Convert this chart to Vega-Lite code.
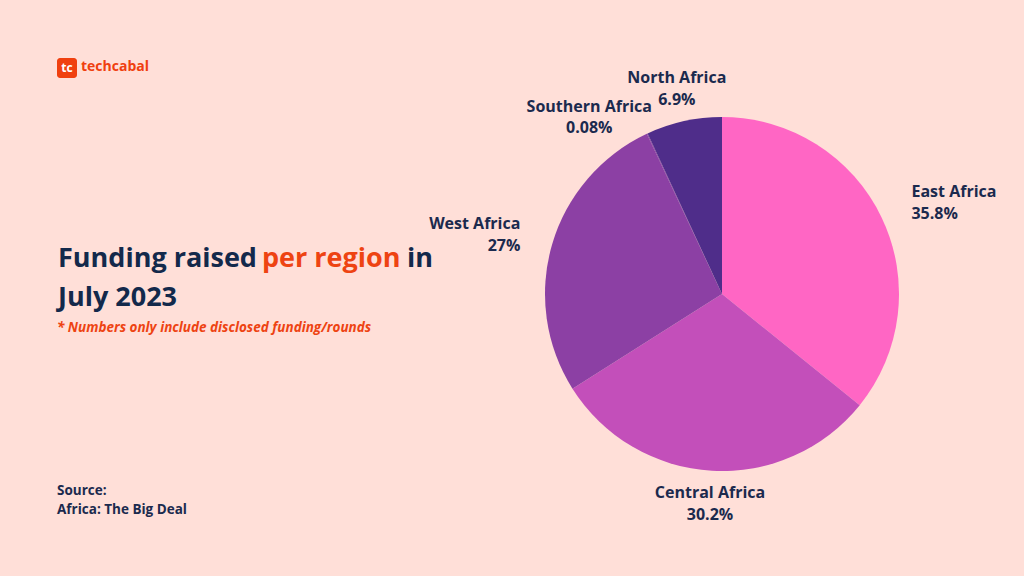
{
  "$schema": "https://vega.github.io/schema/vega-lite/v6.json",
  "width": 480,
  "height": 480,
  "autosize": {"type": "none"},
  "padding": {"left": 482, "top": 54, "right": 62, "bottom": 42},
  "background": "#FFDFD8",
  "config": {"view": {"stroke": null}, "font": "Open Sans"},
  "data": {
    "values": [
      {"region": "East Africa", "share": 35.8, "label": "35.8%", "rank": 1},
      {"region": "Central Africa", "share": 30.2, "label": "30.2%", "rank": 2},
      {"region": "West Africa", "share": 27, "label": "27%", "rank": 3},
      {"region": "Southern Africa", "share": 0.08, "label": "0.08%", "rank": 4},
      {"region": "North Africa", "share": 6.9, "label": "6.9%", "rank": 5}
    ]
  },
  "layer": [
    {
      "mark": {"type": "arc", "outerRadius": 177},
      "encoding": {
        "theta": {"field": "share", "type": "quantitative", "stack": true},
        "order": {"field": "rank", "type": "quantitative"},
        "color": {
          "field": "region",
          "type": "nominal",
          "legend": null,
          "scale": {
            "domain": ["East Africa", "Central Africa", "West Africa", "Southern Africa", "North Africa"],
            "range": ["#FF66C4", "#C34FBA", "#8C40A4", "#7A3AA0", "#4F2D8A"]
          }
        }
      }
    },
    {
      "mark": {
        "type": "text", "radius": 210, "fontSize": 16, "fontWeight": "bold", "color": "#1B2A4E",
        "dy": {"expr": "datum.region === 'Southern Africa' ? 3.5 : -11"},
        "dx": {"expr": "datum.region === 'Southern Africa' ? -44 : 0"},
        "align": {"expr": "datum.region === 'East Africa' ? 'left' : datum.region === 'West Africa' ? 'right' : 'center'"},
        "baseline": "middle"
      },
      "encoding": {
        "theta": {"field": "share", "type": "quantitative", "stack": true},
        "order": {"field": "rank", "type": "quantitative"},
        "text": {"field": "region"}
      }
    },
    {
      "mark": {
        "type": "text", "radius": 210, "fontSize": 16, "fontWeight": "bold", "color": "#1B2A4E",
        "dy": {"expr": "datum.region === 'Southern Africa' ? 24.5 : 11"},
        "dx": {"expr": "datum.region === 'Southern Africa' ? -44 : 0"},
        "align": {"expr": "datum.region === 'East Africa' ? 'left' : datum.region === 'West Africa' ? 'right' : 'center'"},
        "baseline": "middle"
      },
      "encoding": {
        "theta": {"field": "share", "type": "quantitative", "stack": true},
        "order": {"field": "rank", "type": "quantitative"},
        "text": {"field": "label"}
      }
    },
    {
      "data": {"values": [{}]},
      "mark": {"type": "rect", "x": -425, "x2": -405, "y": 4, "y2": 24, "color": "#F0400F", "cornerRadius": 3},
      "encoding": {}
    },
    {
      "data": {"values": [{}]},
      "mark": {"type": "text", "x": -415, "y": 14, "text": "tc", "fontSize": 12, "fontWeight": "bold", "color": "white", "align": "center", "baseline": "middle"},
      "encoding": {}
    },
    {
      "data": {"values": [{}]},
      "mark": {"type": "text", "x": -401, "y": 13, "text": "techcabal", "fontSize": 14, "fontWeight": "bold", "color": "#F0400F", "align": "left", "baseline": "middle"},
      "encoding": {}
    },
    {
      "data": {"values": [{}]},
      "mark": {"type": "text", "x": -424, "y": 213, "text": "Funding raised", "fontSize": 27, "fontWeight": "bold", "color": "#13294B", "align": "left", "baseline": "alphabetic"},
      "encoding": {}
    },
    {
      "data": {"values": [{}]},
      "mark": {"type": "text", "x": -220, "y": 213, "text": "per region", "fontSize": 27, "fontWeight": "bold", "color": "#EE4312", "align": "left", "baseline": "alphabetic"},
      "encoding": {}
    },
    {
      "data": {"values": [{}]},
      "mark": {"type": "text", "x": -75, "y": 213, "text": "in", "fontSize": 27, "fontWeight": "bold", "color": "#13294B", "align": "left", "baseline": "alphabetic"},
      "encoding": {}
    },
    {
      "data": {"values": [{}]},
      "mark": {"type": "text", "x": -424, "y": 252, "text": "July 2023", "fontSize": 27, "fontWeight": "bold", "color": "#13294B", "align": "left", "baseline": "alphabetic"},
      "encoding": {}
    },
    {
      "data": {"values": [{}]},
      "mark": {"type": "text", "x": -425, "y": 274, "text": "* Numbers only include disclosed funding/rounds", "fontSize": 13.5, "fontWeight": "bold", "fontStyle": "italic", "color": "#EE4312", "align": "left", "baseline": "middle"},
      "encoding": {}
    },
    {
      "data": {"values": [{}]},
      "mark": {"type": "text", "x": -425, "y": 437, "text": "Source:", "fontSize": 13.5, "fontWeight": "bold", "color": "#1B2A4E", "align": "left", "baseline": "middle"},
      "encoding": {}
    },
    {
      "data": {"values": [{}]},
      "mark": {"type": "text", "x": -425, "y": 456, "text": "Africa: The Big Deal", "fontSize": 13.5, "fontWeight": "bold", "color": "#1B2A4E", "align": "left", "baseline": "middle"},
      "encoding": {}
    }
  ]
}
